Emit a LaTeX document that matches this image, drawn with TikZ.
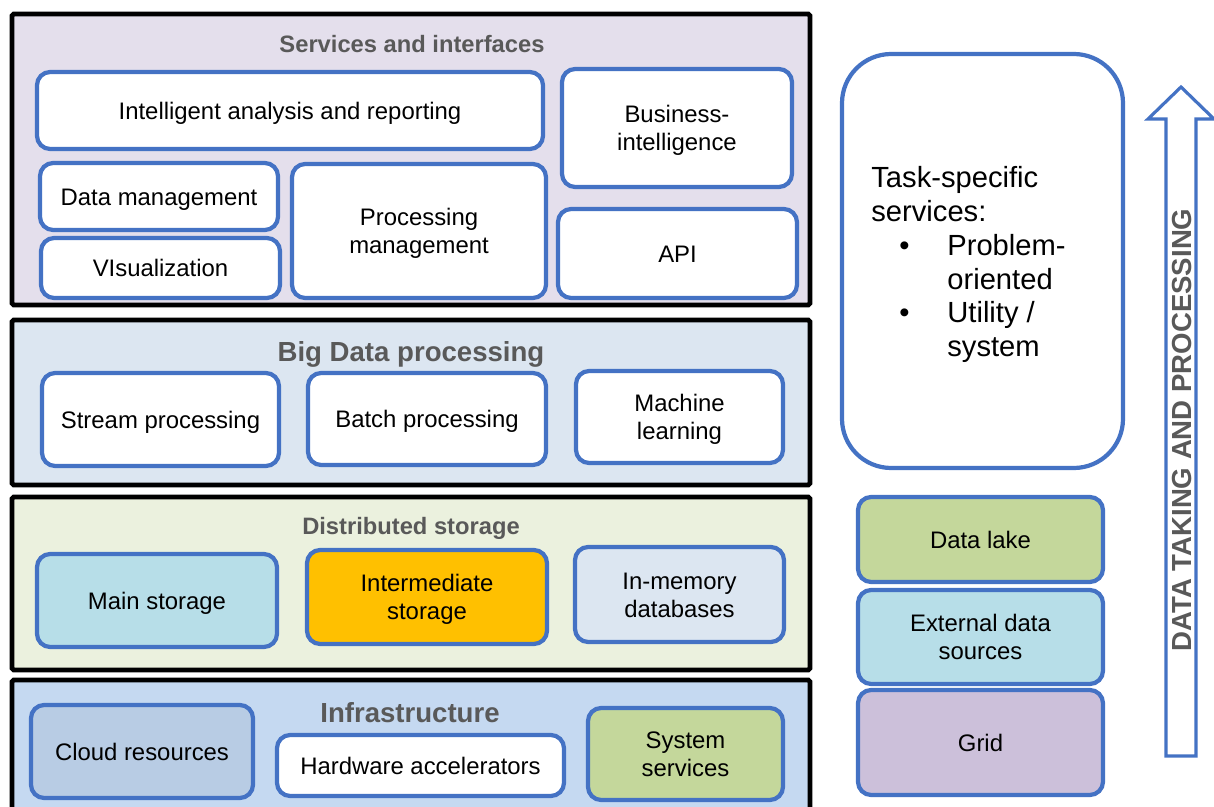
\documentclass[tikz,border=0pt]{standalone}
\usepackage{fontspec}
\setmainfont{Liberation Sans}
\definecolor{bblue}{HTML}{4472C4}
\definecolor{titlegray}{HTML}{595959}
\definecolor{lavfill}{HTML}{E4DFEC}
\definecolor{bdfill}{HTML}{DCE6F1}
\definecolor{dsfill}{HTML}{EBF1DE}
\definecolor{inffill}{HTML}{C5D9F1}
\definecolor{greenbox}{HTML}{C4D79B}
\definecolor{cyanbox}{HTML}{B7DEE8}
\definecolor{gridbox}{HTML}{CCC0DA}
\definecolor{cloudbox}{HTML}{B8CCE4}
\definecolor{membox}{HTML}{DCE6F1}
\definecolor{orangebox}{HTML}{FFC000}
\newcommand{\ubox}[7]{%
  \node[ubx, fill=#6, minimum width={(#4-#2)*0.02cm}, minimum height={(#5-#3)*0.02cm}]
    (#1) at ({(#2+#4)/2},{(#3+#5)/2})
    {\raisebox{-1.8pt}[\height][\depth]{\begin{tabular}{@{}c@{}}#7\end{tabular}}};}
\newcommand{\layer}[6]{%
  \node[layerbox, fill=#6, minimum width={(#4-#2)*0.02cm}, minimum height={(#5-#3)*0.02cm}]
    (#1) at ({(#2+#4)/2},{(#3+#5)/2}) {};}
\begin{document}
\begin{tikzpicture}[x=0.02cm,y=-0.02cm,
  ubx/.style={draw=bblue, line width=2.4pt, rounded corners=7.5pt, inner sep=0pt,
    font=\fontsize{13.6}{16}\selectfont},
  layerbox/.style={draw=black, line width=2.8pt, rounded corners=1pt, inner sep=0pt},
  ltitle/.style={anchor=base, text=titlegray, font=\bfseries\fontsize{13.5}{16}\selectfont, inner sep=0pt},
  btitle/.style={anchor=base, text=titlegray, font=\bfseries\fontsize{15.7}{18}\selectfont, inner sep=0pt},
  tline/.style={anchor=base west, inner sep=0pt, font=\fontsize{16.6}{19}\selectfont},
]
\clip (0,0) rectangle (1214,807);
\fill[white] (0,0) rectangle (1214,807);

% layers
\layer{L1}{12}{14}{810}{305}{lavfill}
\layer{L2}{12}{320}{810}{485}{bdfill}
\layer{L3}{12}{497}{810}{670}{dsfill}
\layer{L4}{12}{680}{810}{840}{inffill}

% titles
\node[ltitle] (t1) at (412,53) {Services and interfaces};
\node[btitle] (t2) at (411,362) {Big Data processing};
\node[ltitle] (t3) at (411,534) {Distributed storage};
\node[btitle] (t4) at (410,722) {Infrastructure};

% services
\ubox{iar}{37}{72}{543}{149}{white}{Intelligent analysis and reporting}
\ubox{bi}{562}{69}{792}{187}{white}{Business-\\intelligence}
\ubox{dm}{40}{163}{278}{230}{white}{Data management}
\ubox{vis}{41}{238}{280}{298}{white}{VIsualization}
\ubox{pm}{292}{164}{546}{298}{white}{Processing\\management}
\ubox{api}{558}{209}{797}{298}{white}{API}

% big data
\ubox{sp}{42}{373}{279}{466}{white}{Stream processing}
\ubox{bp}{308}{373}{546}{465}{white}{Batch processing}
\ubox{ml}{576}{371}{783}{463}{white}{Machine\\learning}

% storage
\ubox{ms}{37}{554}{277}{647}{cyanbox}{Main storage}
\ubox{is}{307}{550}{547}{644}{orangebox}{Intermediate\\storage}
\ubox{imd}{575}{547}{784}{642}{membox}{In-memory\\databases}

% infrastructure
\ubox{cr}{31}{705}{253}{798}{cloudbox}{Cloud resources}
\ubox{ha}{277}{735}{564}{796}{white}{Hardware accelerators}
\ubox{ss}{588}{708}{783}{800}{greenbox}{System\\services}

% right side
\ubox{dl}{858}{497}{1103}{582}{greenbox}{Data lake}
\ubox{eds}{858}{590}{1103}{684}{cyanbox}{External data\\sources}
\ubox{grid}{858}{690}{1103}{795}{gridbox}{Grid}

\node[draw=bblue, line width=2.4pt, rounded corners=28pt, fill=white, inner sep=0pt,
  minimum width={(1123-842)*0.02cm}, minimum height={(468-54)*0.02cm}]
  (task) at ({(842+1123)/2},{(54+468)/2}) {};
\node[tline] (tx1) at (871,188) {Task-specific};
\node[tline] (tx2) at (871,222) {services:};
\node[tline] (tb1) at (899,256) {\textbullet};
\node[tline] (tx3) at (947,256) {Problem-};
\node[tline] (tx4) at (947,290) {oriented};
\node[tline] (tb2) at (899,323) {\textbullet};
\node[tline] (tx5) at (947,323) {Utility /};
\node[tline] (tx6) at (947,357) {system};

% arrow
\draw[draw=bblue, line width=1.8pt, fill=white, line join=miter]
  (1166,756) -- (1166,119) -- (1148,119) -- (1181,87) -- (1214,119) -- (1196,119) -- (1196,756) -- cycle;
\node[rotate=90, text=titlegray, font=\bfseries\fontsize{15.7}{18}\selectfont, inner sep=0pt]
  (arrtxt) at (1182,430) {DATA TAKING AND PROCESSING};
\end{tikzpicture}
\end{document}
